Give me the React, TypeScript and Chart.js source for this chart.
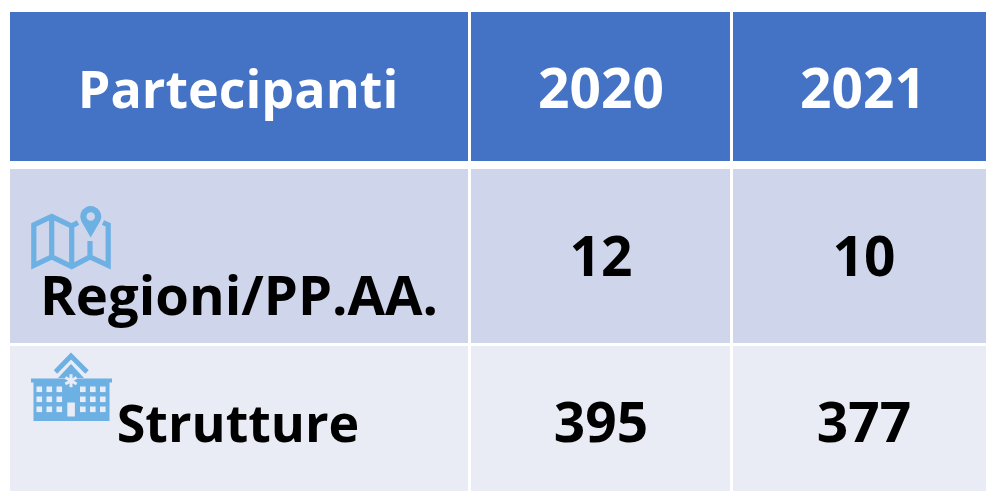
import React, { useEffect, useRef } from "react";
import { Chart, registerables } from "chart.js";

Chart.register(...registerables);

const headerTitle = "Partecipanti";
const years = ["2020", "2021"];
const rowLabels = ["Regioni/PP.AA.", "Strutture"];
const values2020 = [12, 395];
const values2021 = [10, 377];

const font = (size: number) => `bold ${size}px "Open Sans", sans-serif`;
const BLUE = "#6DB0E3";

function drawMap(c: CanvasRenderingContext2D) {
  c.save();
  c.strokeStyle = BLUE;
  c.fillStyle = BLUE;
  c.lineWidth = 5.2;
  c.lineJoin = "miter";
  c.beginPath();
  c.moveTo(78, 222.5);
  c.lineTo(71.7, 226);
  c.lineTo(51.7, 216.5);
  c.lineTo(33.8, 225);
  c.lineTo(33.8, 265.5);
  c.lineTo(51.7, 257);
  c.lineTo(71.7, 266.5);
  c.lineTo(90, 257);
  c.lineTo(108.2, 265.5);
  c.lineTo(108.2, 225);
  c.lineTo(103, 222.5);
  c.moveTo(51.7, 217);
  c.lineTo(51.7, 257);
  c.moveTo(71.7, 226);
  c.lineTo(71.7, 266);
  c.moveTo(90, 241);
  c.lineTo(90, 257);
  c.stroke();
  c.beginPath();
  c.arc(90.7, 216.5, 10.5, Math.PI * 0.85, Math.PI * 0.15);
  c.lineTo(90.7, 237.5);
  c.closePath();
  c.moveTo(95, 216.5);
  c.arc(90.7, 216.5, 4.3, 0, Math.PI * 2, true);
  c.fill("evenodd");
  c.restore();
}

function drawHospital(c: CanvasRenderingContext2D, bg: string) {
  c.save();
  c.fillStyle = BLUE;
  c.strokeStyle = BLUE;
  c.lineWidth = 4.8;
  c.beginPath();
  c.moveTo(55.5, 372);
  c.lineTo(71, 356);
  c.lineTo(87, 372);
  c.stroke();
  c.beginPath();
  c.moveTo(58, 378);
  c.lineTo(71, 364);
  c.lineTo(84, 378);
  c.closePath();
  c.fill();
  c.fillRect(31, 378.5, 81, 4);
  c.fillRect(33.5, 382, 76, 39);
  c.fillStyle = bg;
  for (const y of [386.5, 396.5, 406.5]) {
    for (const x of [36.5, 46.5, 56.5, 80, 90, 100]) c.fillRect(x, y, 5.6, 5.6);
  }
  c.fillRect(67.3, 402.5, 7.6, 14);
  c.strokeStyle = bg;
  c.lineWidth = 3;
  c.beginPath();
  for (let i = 0; i < 3; i++) {
    const a = (i * Math.PI) / 3 + Math.PI / 2;
    c.moveTo(71 + 6.5 * Math.cos(a), 380.7 + 6.5 * Math.sin(a));
    c.lineTo(71 - 6.5 * Math.cos(a), 380.7 - 6.5 * Math.sin(a));
  }
  c.stroke();
  c.restore();
}

const tablePlugin = {
  id: "table",
  afterDraw(chart: any) {
    const c: CanvasRenderingContext2D = chart.ctx;
    const cols = [
      [10, 468],
      [471, 730],
      [733, 986],
    ];
    const rows = [
      [12, 161, "#4472C4"],
      [169, 343, "#CFD5EA"],
      [346, 491, "#E9EBF5"],
    ] as [number, number, string][];
    c.save();
    for (const [top, bottom, fill] of rows) {
      c.fillStyle = fill;
      for (const [l, r] of cols) c.fillRect(l, top, r - l, bottom - top);
    }
    c.textBaseline = "alphabetic";
    c.textAlign = "center";
    c.fillStyle = "#FFFFFF";
    c.font = font(52);
    c.fillText(headerTitle, 238, 108);
    c.font = font(55);
    c.fillText(years[0], 601, 108);
    c.fillText(years[1], 863, 108);
    drawMap(c);
    drawHospital(c, rows[2][2]);
    c.fillStyle = "#000000";
    c.font = font(54.4);
    c.fillText(rowLabels[0], 239, 315);
    c.font = font(52);
    c.fillText(rowLabels[1], 238, 442);
    c.font = font(55);
    const s = chart.data.datasets;
    const baselines = [276, 442];
    baselines.forEach((y, i) => {
      c.fillText(String(s[0].data[i]), 601, y);
      c.fillText(String(s[1].data[i]), 864, y);
    });
    c.restore();
  },
};

export default function App() {
  const ref = useRef<HTMLCanvasElement>(null);
  useEffect(() => {
    document.body.style.margin = "0";
    document.body.style.background = "#FFFFFF";
    const chart = new Chart(ref.current!, {
      type: "bar",
      data: {
        labels: rowLabels,
        datasets: [
          { label: years[0], data: values2020, backgroundColor: "transparent" },
          { label: years[1], data: values2021, backgroundColor: "transparent" },
        ],
      },
      options: {
        responsive: false,
        animation: false,
        plugins: { legend: { display: false }, tooltip: { enabled: false }, title: { display: false } },
        scales: { x: { display: false }, y: { display: false } },
      },
      plugins: [tablePlugin],
    });
    return () => chart.destroy();
  }, []);
  return <canvas ref={ref} width={986} height={492} style={{ display: "block" }} />;
}
